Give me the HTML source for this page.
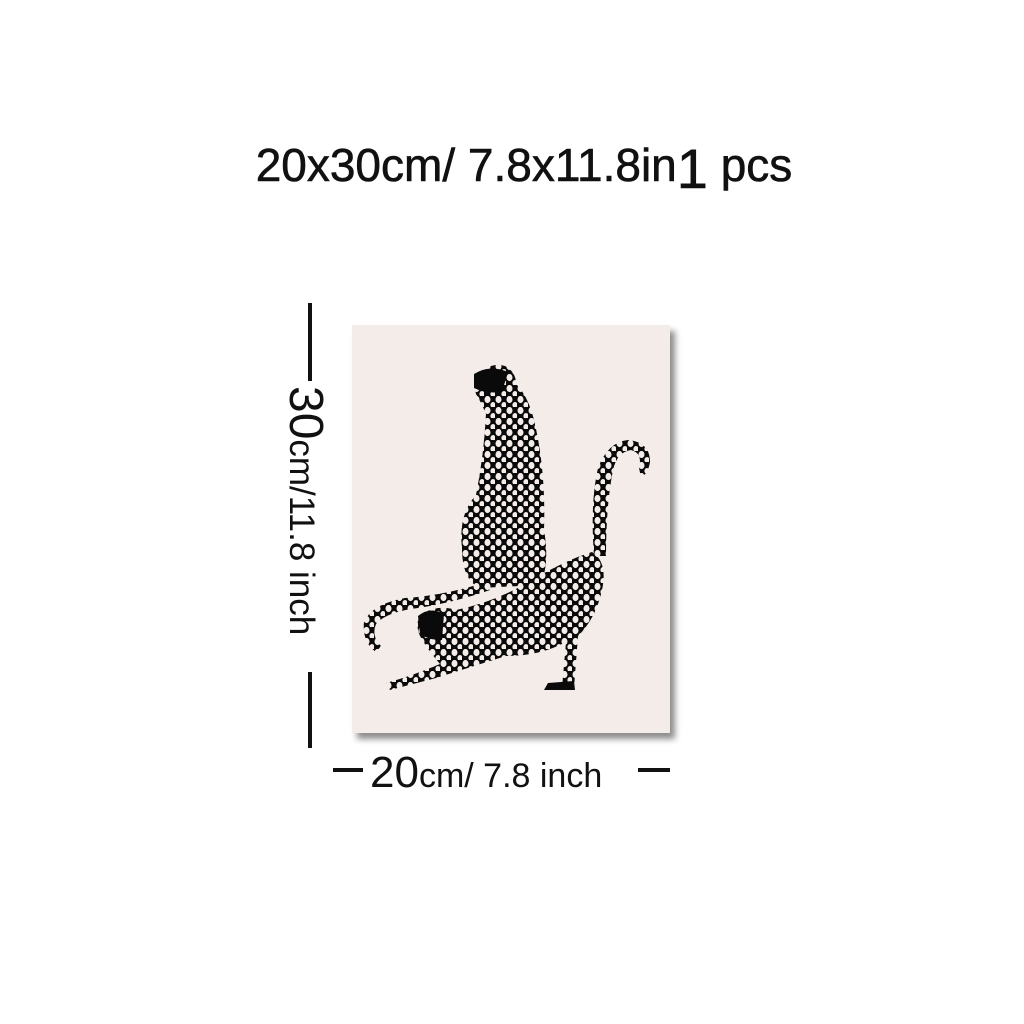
<!DOCTYPE html>
<html><head><meta charset="utf-8">
<style>
html,body{margin:0;padding:0;background:#fff;}
#root{position:relative;width:1024px;height:1024px;overflow:hidden;font-family:"Liberation Sans",sans-serif;color:#111;}
.title{position:absolute;left:12px;width:1024px;top:136px;text-align:center;font-size:46px;white-space:nowrap;-webkit-text-stroke:0.6px #111;}
.title .big{font-size:56px;vertical-align:-7px;}
.canvas{position:absolute;left:352px;top:325px;width:318px;height:408px;background:#f3ece8;box-shadow:5px 6px 6px rgba(0,0,0,0.45);}
.vline{position:absolute;background:#111;}
.vtext{position:absolute;left:283px;top:386px;transform-origin:0 0;transform:translate(50px,0) rotate(90deg);white-space:nowrap;font-size:35px;}
.vtext b{font-weight:normal;font-size:48px;}
.btext{position:absolute;left:370px;top:748px;white-space:nowrap;font-size:34px;}
.btext b{font-weight:normal;font-size:44px;}
</style></head>
<body>
<div id="root">
  <div class="title">20x30cm/ 7.8x11.8in<span class="big">1</span> pcs</div>

  <div class="canvas">
    <svg width="318" height="408" viewBox="352 325 318 408">
      <defs>
        <pattern id="spots" width="11" height="11" patternUnits="userSpaceOnUse">
          <rect width="11" height="11" fill="#0a0a0a"/>
          <ellipse cx="3.5" cy="3.5" rx="3" ry="3.6" fill="#f3ece8"/>
          <ellipse cx="9" cy="9" rx="2.6" ry="3" fill="#f3ece8"/>
        </pattern>
      </defs>
      <g>
        <path d="M482,372 Q492,362 505,366 Q516,372 516,384 Q528,396 534,420 Q546,470 544,530 Q550,565 540,585 L480,588 Q462,580 462,548 Q458,515 476,495 Q484,455 486,414 Q480,400 476,394 Q472,380 482,372Z" fill="url(#spots)"/>
        <path d="M474,374 Q490,364 508,372 L502,392 Q486,394 474,388Z" fill="#0a0a0a"/>
        <path d="M480,584 Q440,596 405,598 Q372,604 364,622 Q362,642 376,652 L381,646 Q371,636 376,624 Q386,612 418,608 Q456,602 490,590Z" fill="url(#spots)"/>
      </g>
      <g>
        <path d="M422,614 Q438,604 456,610 Q496,602 532,580 Q566,560 592,552 Q608,562 602,590 Q596,618 578,636 L574,688 L562,688 L566,642 Q540,656 506,656 Q474,666 436,678 L390,690 L386,683 Q412,676 440,664 Q428,650 420,636 Q414,622 422,614Z" fill="url(#spots)"/>
        <path d="M418,616 Q430,606 444,614 L442,640 Q428,640 420,634Z" fill="#0a0a0a"/>
        <path d="M548,683 L574,681 L575,690 L544,690Z" fill="#0a0a0a"/>
        <path d="M594,556 Q590,502 598,468 Q608,442 628,440 Q650,442 650,462 Q648,474 641,477 L639,468 Q643,453 631,450 Q617,452 613,470 Q606,505 606,556Z" fill="url(#spots)"/>
      </g>
    </svg>
  </div>

  <div class="vline" style="left:308px;top:303px;width:4px;height:78px;"></div>
  <div class="vtext"><b>30</b>cm/11.8 inch</div>
  <div class="vline" style="left:308px;top:672px;width:4px;height:76px;"></div>

  <div class="vline" style="left:333px;top:768px;width:30px;height:4px;"></div>
  <div class="btext"><b>20</b>cm/ 7.8 inch</div>
  <div class="vline" style="left:638px;top:768px;width:32px;height:4px;"></div>
</div>
</body></html>
